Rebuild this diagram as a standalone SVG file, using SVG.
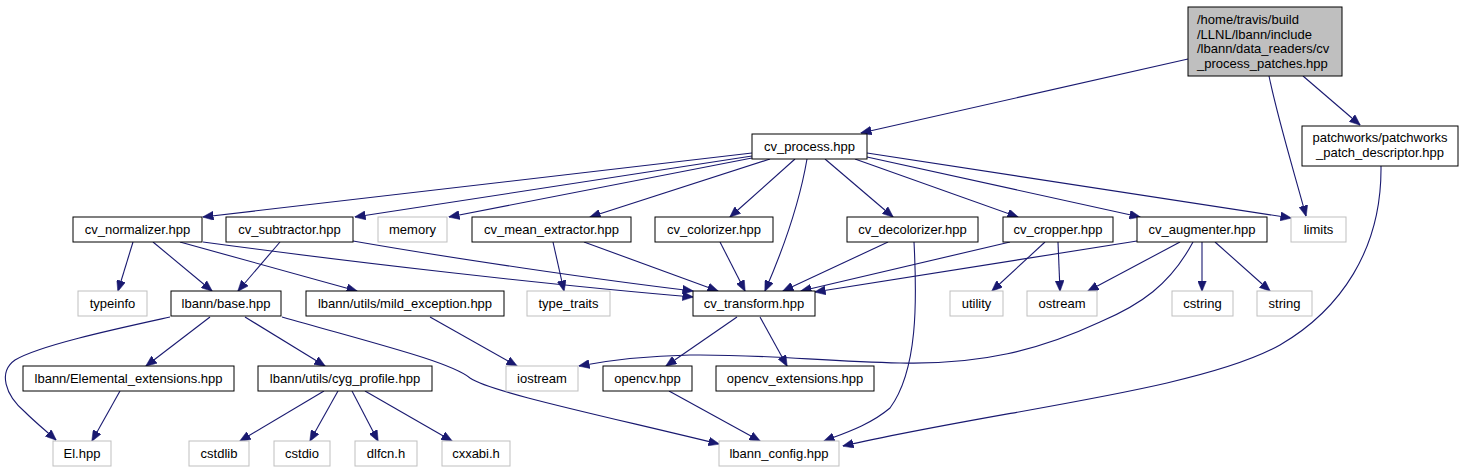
<svg xmlns="http://www.w3.org/2000/svg" width="1467" height="472" viewBox="0 0 1467 472">
<style>
.n rect{fill:#fff;stroke:#000;stroke-width:1}
.g rect{fill:#fff;stroke:#bfbfbf;stroke-width:1}
.m rect{fill:#bfbfbf;stroke:#000;stroke-width:1}
text{font-family:"Liberation Sans",Arial,sans-serif;font-size:13px;fill:#000;text-anchor:middle}
.lt{text-anchor:start}
#edges path{fill:none;stroke:#191970;stroke-width:1.1;marker-end:url(#arr)}
</style>
<defs>
<marker id="arr" markerUnits="userSpaceOnUse" markerWidth="11" markerHeight="9" viewBox="0 0 11 9" refX="10.5" refY="4.5" orient="auto">
<path d="M0,0 L11,4.5 L0,9 z" fill="#191970" stroke="#191970" stroke-width="0.5"/>
</marker>
</defs>
<rect width="1467" height="472" fill="#fff"/>
<g id="edges">
<path d="M1188,59 L861,133"/>
<path d="M1269,76 C1278,120 1295,175 1306,216"/>
<path d="M1303,76 L1360,125"/>
<path d="M1381,166 C1382,250 1340,310 1280,345 C1200,390 1000,410 843,446"/>
<path d="M752,153 L203,217"/>
<path d="M752,156 L355,217"/>
<path d="M752,158 L449,217"/>
<path d="M770,159 L590,217"/>
<path d="M795,159 L730,217"/>
<path d="M807,159 C800,200 785,245 765,291"/>
<path d="M825,159 L893,217"/>
<path d="M855,159 L1018,217"/>
<path d="M867,157 L1140,217"/>
<path d="M867,153 L1291,218"/>
<path d="M133,242 L118,291"/>
<path d="M153,242 L212,291"/>
<path d="M180,242 L357,291"/>
<path d="M203,242 C350,262 550,285 693,297"/>
<path d="M280,242 L238,291"/>
<path d="M353,241 C450,258 600,280 693,291"/>
<path d="M553,242 L564,291"/>
<path d="M584,242 L718,291"/>
<path d="M720,242 L745,291"/>
<path d="M888,242 L783,291"/>
<path d="M914,242 C917,300 918,370 890,408 C870,425 845,433 824,441"/>
<path d="M1010,242 L801,291"/>
<path d="M1045,242 L992,291"/>
<path d="M1058,242 L1060,291"/>
<path d="M1137,241 L815,292"/>
<path d="M1193,242 C1170,285 1140,305 1100,322 C1040,350 980,365 900,363 C820,361 760,354 690,355 C640,356 610,360 579,366"/>
<path d="M1180,242 L1088,291"/>
<path d="M1202,242 L1202,291"/>
<path d="M1215,242 L1270,291"/>
<path d="M170,317 C120,328 40,345 15,360 C-2,372 5,395 25,412 C35,422 45,430 56,440"/>
<path d="M210,317 L146,366"/>
<path d="M245,317 L325,366"/>
<path d="M282,317 C380,345 450,362 470,378 C490,392 600,415 719,444"/>
<path d="M430,317 L517,366"/>
<path d="M737,317 L666,366"/>
<path d="M760,317 L787,366"/>
<path d="M120,391 L92,441"/>
<path d="M324,391 L240,441"/>
<path d="M338,391 L310,441"/>
<path d="M352,391 L378,441"/>
<path d="M365,391 L452,441"/>
<path d="M669,391 L760,441"/>
</g>
<g id="main" class="m"><rect x="1188" y="7" width="154" height="69"/>
<text class="lt" x="1197" y="24">/home/travis/build</text>
<text class="lt" x="1197" y="38.5">/LLNL/lbann/include</text>
<text class="lt" x="1197" y="53">/lbann/data_readers/cv</text>
<text class="lt" x="1197" y="67.5">_process_patches.hpp</text></g>
<g id="patchworks" class="n"><rect x="1302" y="126" width="156" height="40"/>
<text x="1380" y="142">patchworks/patchworks</text>
<text x="1380" y="156.5">_patch_descriptor.hpp</text></g>
<g id="cv_process" class="n"><rect x="752" y="134" width="115" height="25"/><text x="809.5" y="151">cv_process.hpp</text></g>
<g id="cv_normalizer" class="n"><rect x="73" y="217" width="129" height="25"/><text x="137.5" y="234">cv_normalizer.hpp</text></g>
<g id="cv_subtractor" class="n"><rect x="226" y="217" width="127" height="25"/><text x="289.5" y="234">cv_subtractor.hpp</text></g>
<g id="memory" class="g"><rect x="378" y="217" width="69" height="25"/><text x="412.5" y="234">memory</text></g>
<g id="cv_mean_extractor" class="n"><rect x="472" y="217" width="159" height="25"/><text x="551.5" y="234">cv_mean_extractor.hpp</text></g>
<g id="cv_colorizer" class="n"><rect x="655" y="217" width="118" height="25"/><text x="714" y="234">cv_colorizer.hpp</text></g>
<g id="cv_decolorizer" class="n"><rect x="847" y="217" width="131" height="25"/><text x="912.5" y="234">cv_decolorizer.hpp</text></g>
<g id="cv_cropper" class="n"><rect x="1003" y="217" width="110" height="25"/><text x="1058" y="234">cv_cropper.hpp</text></g>
<g id="cv_augmenter" class="n"><rect x="1137" y="217" width="130" height="25"/><text x="1202" y="234">cv_augmenter.hpp</text></g>
<g id="limits" class="g"><rect x="1291" y="217" width="55" height="25"/><text x="1318.5" y="234">limits</text></g>
<g id="typeinfo" class="g"><rect x="78" y="291" width="69" height="25"/><text x="112.5" y="308">typeinfo</text></g>
<g id="lbann_base" class="n"><rect x="171" y="291" width="110" height="25"/><text x="226" y="308">lbann/base.hpp</text></g>
<g id="mild_exception" class="n"><rect x="306" y="291" width="198" height="25"/><text x="405" y="308">lbann/utils/mild_exception.hpp</text></g>
<g id="type_traits" class="g"><rect x="527" y="291" width="83" height="25"/><text x="568.5" y="308">type_traits</text></g>
<g id="cv_transform" class="n"><rect x="693" y="291" width="122" height="25"/><text x="754" y="308">cv_transform.hpp</text></g>
<g id="utility" class="g"><rect x="950" y="291" width="53" height="25"/><text x="976.5" y="308">utility</text></g>
<g id="ostream" class="g"><rect x="1027" y="291" width="70" height="25"/><text x="1062" y="308">ostream</text></g>
<g id="cstring" class="g"><rect x="1172" y="291" width="61" height="25"/><text x="1202.5" y="308">cstring</text></g>
<g id="string" class="g"><rect x="1257" y="291" width="55" height="25"/><text x="1284.5" y="308">string</text></g>
<g id="elemental_ext" class="n"><rect x="23" y="366" width="211" height="25"/><text x="128.5" y="383">lbann/Elemental_extensions.hpp</text></g>
<g id="cyg_profile" class="n"><rect x="258" y="366" width="174" height="25"/><text x="345" y="383">lbann/utils/cyg_profile.hpp</text></g>
<g id="iostream" class="g"><rect x="506" y="366" width="72" height="25"/><text x="542" y="383">iostream</text></g>
<g id="opencv" class="n"><rect x="603" y="366" width="89" height="25"/><text x="647.5" y="383">opencv.hpp</text></g>
<g id="opencv_extensions" class="n"><rect x="716" y="366" width="158" height="25"/><text x="795" y="383">opencv_extensions.hpp</text></g>
<g id="El" class="g"><rect x="53" y="441" width="58" height="25"/><text x="82" y="458">El.hpp</text></g>
<g id="cstdlib" class="g"><rect x="189" y="441" width="60" height="25"/><text x="219" y="458">cstdlib</text></g>
<g id="cstdio" class="g"><rect x="274" y="441" width="56" height="25"/><text x="302" y="458">cstdio</text></g>
<g id="dlfcn" class="g"><rect x="355" y="441" width="62" height="25"/><text x="386" y="458">dlfcn.h</text></g>
<g id="cxxabi" class="g"><rect x="442" y="441" width="68" height="25"/><text x="476" y="458">cxxabi.h</text></g>
<g id="lbann_config" class="g"><rect x="719" y="441" width="120" height="25"/><text x="779" y="458">lbann_config.hpp</text></g>
</svg>
